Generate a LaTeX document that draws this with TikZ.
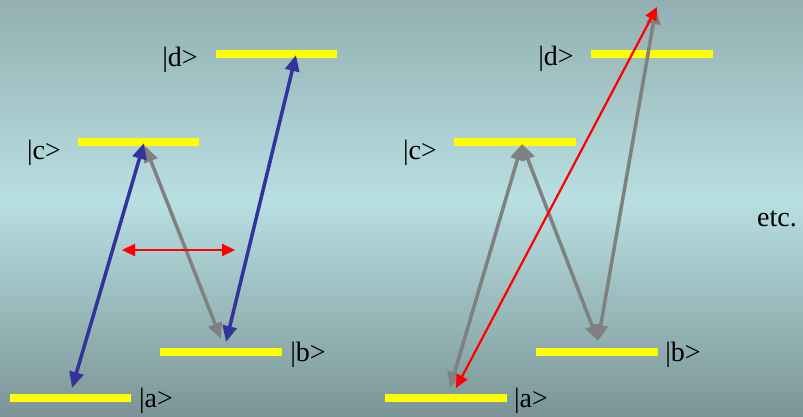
\documentclass[tikz,border=0pt]{standalone}
\usepackage{fontspec}
\setmainfont{Liberation Serif}
\usepackage{xcolor}
\usepackage{tikz}
\usetikzlibrary{arrows.meta}
\definecolor{bgtop}{HTML}{93AFB1}
\definecolor{bgmid}{HTML}{B8DFE2}
\definecolor{bgbot}{HTML}{7B9596}
\definecolor{levc}{HTML}{FFFF00}
\definecolor{bluec}{HTML}{333399}
\definecolor{grayc}{HTML}{808080}
\definecolor{redc}{HTML}{FF0000}
\tikzset{
  lev/.style={levc,line width=7.5pt},
  lab/.style={font=\fontsize{28}{33}\selectfont,inner sep=0pt},
  bar/.style={{Triangle[length=16pt,width=14pt]}-{Triangle[length=16pt,width=14pt]},line width=3.5pt,bluec},
  gar/.style={bar,grayc},
  rar/.style={{Triangle[length=13pt,width=12pt]}-{Triangle[length=13pt,width=12pt]},line width=2.2pt,redc}
}
\begin{document}
\begin{tikzpicture}[x=1pt,y=-1pt]
\useasboundingbox (0,0) rectangle (803,416);
\shade[top color=bgtop,bottom color=bgmid] (0,0) rectangle (803,200);
\shade[top color=bgmid,bottom color=bgbot] (0,199.5) rectangle (803,416);
% left scheme
\draw[lev] (216,54)--(337,54); \draw[lev] (78,142)--(199,142);
\draw[lev] (160,352)--(282,352); \draw[lev] (10,398)--(131,398);
\node[lab] (d1) at (180,60) {|d>}; \node[lab] (c1) at (44,153) {|c>};
\node[lab] (b1) at (308,355) {|b>}; \node[lab] (a1) at (156,401) {|a>};
\coordinate (A1) at (72,388); \coordinate (C1) at (144,143); \coordinate (C1g) at (145,146);
\coordinate (B1g) at (221,339); \coordinate (B1) at (226,342); \coordinate (D1) at (296,55);
\coordinate (L1) at (122,250); \coordinate (R1) at (235,250);
\draw[gar] (C1g)--(B1g);
\draw[bar] (A1)--(C1); \draw[bar] (B1)--(D1);
\draw[rar] (L1)--(R1);
% right scheme
\draw[lev] (591,54)--(713,54); \draw[lev] (454,142)--(576,142);
\draw[lev] (536,352)--(658,352); \draw[lev] (385,398)--(507,398);
\node[lab] (d2) at (556,59) {|d>}; \node[lab] (c2) at (420,153) {|c>};
\node[lab] (b2) at (683,355) {|b>}; \node[lab] (a2) at (531,401) {|a>};
\coordinate (A2) at (450,388); \coordinate (C2) at (522,144); \coordinate (B2) at (598,341);
\coordinate (T2) at (656,8); \coordinate (A2r) at (456,388); \coordinate (T2r) at (657,7);
\draw[gar] (A2)--(C2); \draw[gar] (C2)--(B2); \draw[gar] (B2)--(T2);
\draw[rar] (A2r)--(T2r);
\node[lab,anchor=base] (etc) at (777,226) {etc.};
\end{tikzpicture}
\end{document}
